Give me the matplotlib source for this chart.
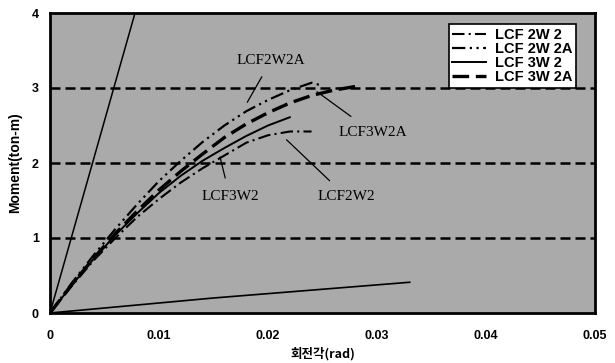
import matplotlib
matplotlib.use("Agg")
import matplotlib.pyplot as plt

# ---- data ----
x_2w2 = [0, 0.002, 0.004, 0.006, 0.008, 0.010, 0.012, 0.014, 0.016, 0.018, 0.020, 0.022, 0.024]
m_2w2 = [0, 0.36, 0.70, 1.00, 1.28, 1.52, 1.74, 1.93, 2.10, 2.27, 2.37, 2.42, 2.42]

x_2w2a = [0, 0.002, 0.004, 0.006, 0.008, 0.010, 0.012, 0.014, 0.016, 0.018, 0.020, 0.022, 0.024, 0.025]
m_2w2a = [0, 0.40, 0.77, 1.12, 1.45, 1.76, 2.03, 2.28, 2.50, 2.69, 2.84, 2.97, 3.07, 3.03]

x_3w2 = [0, 0.002, 0.004, 0.006, 0.008, 0.010, 0.012, 0.014, 0.016, 0.018, 0.020, 0.022]
m_3w2 = [0, 0.37, 0.72, 1.04, 1.33, 1.60, 1.83, 2.03, 2.20, 2.36, 2.50, 2.61]

x_3w2a = [0, 0.002, 0.004, 0.006, 0.008, 0.010, 0.012, 0.014, 0.016, 0.018, 0.020, 0.022, 0.024, 0.026, 0.028]
m_3w2a = [0, 0.38, 0.73, 1.06, 1.36, 1.64, 1.89, 2.12, 2.34, 2.52, 2.67, 2.80, 2.90, 2.97, 3.02]

x_stiff = [0, 0.0078]
m_stiff = [0, 4.0]
x_low = [0, 0.015, 0.033]
m_low = [0, 0.20, 0.41]

xticks = [0, 0.01, 0.02, 0.03, 0.04, 0.05]
xticklabels = ["0", "0.01", "0.02", "0.03", "0.04", "0.05"]
yticks = [0, 1, 2, 3, 4]
yticklabels = ["0", "1", "2", "3", "4"]

# ---- figure ----
fig = plt.figure(figsize=(6.15, 3.63), dpi=100)
ax = fig.add_axes([50/615, 50/363, 545/615, 300/363])
ax.set_facecolor("#aaaaaa")
ax.set_xlim(0, 0.05)
ax.set_ylim(0, 4)

for g in [1, 2, 3]:
    ax.axhline(g, color="black", lw=1.8, ls=(0, (4, 2)), zorder=1)

ax.plot(x_stiff, m_stiff, color="black", lw=1.1, zorder=2)
ax.plot(x_low, m_low, color="black", lw=1.2, zorder=2)

l1, = ax.plot(x_2w2, m_2w2, color="black", lw=1.5, ls=(0, (6, 2, 1, 2)), zorder=3, label="LCF 2W 2")
l2, = ax.plot(x_2w2a, m_2w2a, color="black", lw=1.6, ls=(0, (6, 2, 1, 2, 1, 2)), zorder=3, label="LCF 2W 2A")
l3, = ax.plot(x_3w2, m_3w2, color="black", lw=1.4, ls="-", zorder=3, label="LCF 3W 2")
l4, = ax.plot(x_3w2a, m_3w2a, color="black", lw=2.4, ls=(0, (5, 2)), zorder=3, label="LCF 3W 2A")

for s in ax.spines.values():
    s.set_linewidth(2)
    s.set_color("black")

ax.set_xticks(xticks)
ax.set_xticklabels(xticklabels)
ax.set_yticks(yticks)
ax.set_yticklabels(yticklabels)
ax.tick_params(length=0, labelsize=9)
ax.tick_params(axis="x", pad=12)
ax.tick_params(axis="y", pad=8)
for t in ax.get_xticklabels() + ax.get_yticklabels():
    t.set_fontweight("bold")
    t.set_family("Liberation Sans")

ax.set_ylabel("Moment(ton-m)", fontsize=10, fontweight="bold", family="Liberation Sans", labelpad=7)
ax.set_xlabel("회전각(rad)", fontsize=9, fontweight="bold",
              family=["Noto Sans CJK KR", "DejaVu Sans"], labelpad=4)

leg = ax.legend(handles=[l1, l2, l3, l4], loc="upper right", bbox_to_anchor=(0.965, 0.962),
                frameon=True, fancybox=False, edgecolor="black", facecolor="white",
                framealpha=1, handlelength=2.3, handletextpad=0.6, labelspacing=0.0,
                borderpad=0.25, borderaxespad=0,
                prop={"family": "Liberation Sans", "weight": "bold", "size": 10.5})
leg.get_frame().set_linewidth(1.2)

serif = {"family": "Liberation Serif", "size": 11}
ax.annotate("LCF2W2A", xy=(0.0181, 2.81), xytext=(0.0203, 3.37), ha="center", va="center",
            arrowprops=dict(arrowstyle="-", color="black", lw=0.9, shrinkA=6, shrinkB=0), **serif)
ax.annotate("LCF3W2A", xy=(0.0245, 2.95), xytext=(0.0296, 2.41), ha="center", va="center",
            arrowprops=dict(arrowstyle="-", color="black", lw=0.9, shrinkA=8, shrinkB=0), **serif)
ax.annotate("LCF3W2", xy=(0.0156, 2.08), xytext=(0.0165, 1.55), ha="center", va="center",
            arrowprops=dict(arrowstyle="-", color="black", lw=0.9, shrinkA=7, shrinkB=0), **serif)
ax.annotate("LCF2W2", xy=(0.0217, 2.31), xytext=(0.0272, 1.55), ha="center", va="center",
            arrowprops=dict(arrowstyle="-", color="black", lw=0.9, shrinkA=7, shrinkB=0), **serif)

fig.savefig("out.png", dpi=100)
